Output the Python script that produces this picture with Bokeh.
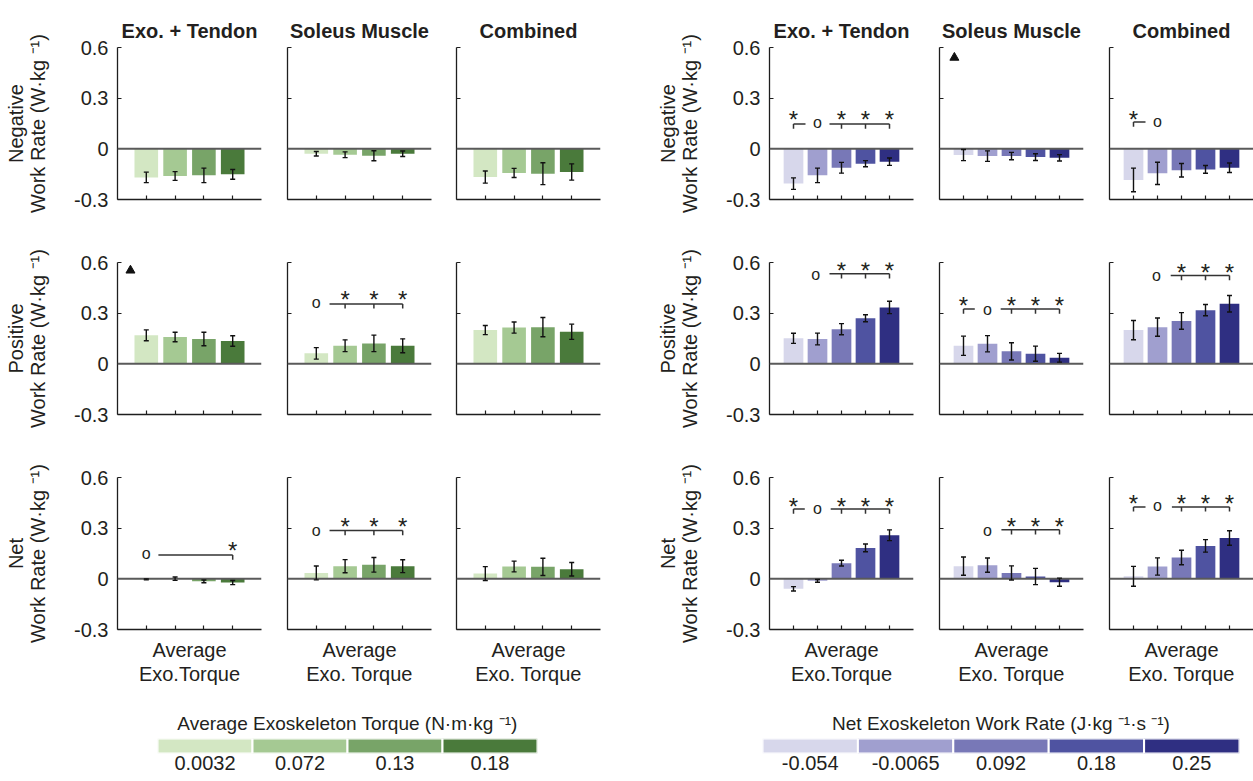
from bokeh.plotting import figure
from bokeh.layouts import column, row
from bokeh.models import ColumnDataSource, Whisker, TeeHead, Span, FixedTicker, Range1d
from bokeh.embed import file_html
from bokeh.resources import INLINE
from bokeh.core.properties import value

FONT = "Liberation Sans"
TXT = "#231f20"
AX = "#1e1e1e"

# ---------------- categories / labels ----------------
torque_levels = ["0.0032", "0.072", "0.13", "0.18"]
work_levels = ["-0.054", "-0.0065", "0.092", "0.18", "0.25"]
torque_colors = ["#d3e7c3", "#a5c993", "#78a468", "#4a7a3b"]
work_colors = ["#d7d7eb", "#a09fcf", "#7878b7", "#4f53a1", "#2f2f82"]
column_titles = ["Exo. + Tendon", "Soleus Muscle", "Combined"]
row_names = ["Negative", "Positive", "Net"]
y_unit_label = "Work Rate (W·kg ⁻¹)"
x_labels = ["Average\nExo.Torque", "Average\nExo. Torque", "Average\nExo. Torque"]
y_ticks = [-0.3, 0, 0.3, 0.6]
y_tick_labels = ["-0.3", "0", "0.3", "0.6"]
torque_legend_title = "Average Exoskeleton Torque (N·m·kg ⁻¹)"
work_legend_title = "Net Exoskeleton Work Rate (J·kg ⁻¹·s ⁻¹)"

# ---------------- values (mean, sd) : torque group ----------------
torque_neg_exo = [-0.169, -0.161, -0.157, -0.151]
torque_neg_exo_sd = [0.031, 0.026, 0.043, 0.029]
torque_neg_sol = [-0.029, -0.035, -0.041, -0.029]
torque_neg_sol_sd = [0.013, 0.017, 0.030, 0.016]
torque_neg_comb = [-0.167, -0.143, -0.147, -0.137]
torque_neg_comb_sd = [0.036, 0.027, 0.065, 0.048]

torque_pos_exo = [0.169, 0.159, 0.147, 0.135]
torque_pos_exo_sd = [0.032, 0.028, 0.040, 0.031]
torque_pos_sol = [0.062, 0.107, 0.121, 0.107]
torque_pos_sol_sd = [0.034, 0.035, 0.049, 0.041]
torque_pos_comb = [0.200, 0.215, 0.217, 0.190]
torque_pos_comb_sd = [0.027, 0.033, 0.057, 0.045]

torque_net_exo = [-0.003, 0.001, -0.015, -0.022]
torque_net_exo_sd = [0.003, 0.010, 0.008, 0.012]
torque_net_sol = [0.035, 0.075, 0.083, 0.075]
torque_net_sol_sd = [0.041, 0.039, 0.043, 0.038]
torque_net_comb = [0.031, 0.073, 0.071, 0.057]
torque_net_comb_sd = [0.041, 0.032, 0.051, 0.040]

# ---------------- values (mean, sd) : work group ----------------
work_neg_exo = [-0.206, -0.157, -0.112, -0.088, -0.076]
work_neg_exo_sd = [0.034, 0.043, 0.032, 0.018, 0.022]
work_neg_sol = [-0.037, -0.043, -0.043, -0.049, -0.053]
work_neg_sol_sd = [0.033, 0.031, 0.022, 0.020, 0.019]
work_neg_comb = [-0.184, -0.145, -0.127, -0.122, -0.112]
work_neg_comb_sd = [0.070, 0.066, 0.040, 0.023, 0.028]

work_pos_exo = [0.151, 0.147, 0.205, 0.270, 0.334]
work_pos_exo_sd = [0.030, 0.035, 0.033, 0.021, 0.037]
work_pos_sol = [0.107, 0.119, 0.074, 0.060, 0.036]
work_pos_sol_sd = [0.057, 0.048, 0.051, 0.045, 0.026]
work_pos_comb = [0.200, 0.217, 0.254, 0.318, 0.356]
work_pos_comb_sd = [0.057, 0.054, 0.049, 0.033, 0.049]

work_net_exo = [-0.059, -0.012, 0.093, 0.183, 0.258]
work_net_exo_sd = [0.013, 0.008, 0.017, 0.023, 0.032]
work_net_sol = [0.075, 0.081, 0.035, 0.014, -0.020]
work_net_sol_sd = [0.054, 0.042, 0.042, 0.048, 0.024]
work_net_comb = [0.015, 0.073, 0.126, 0.195, 0.242]
work_net_comb_sd = [0.059, 0.051, 0.043, 0.037, 0.043]

# ---------------- significance marks ----------------
torque_pos_exo_marks = dict(tri=[(0.45, 0.553)])
torque_pos_sol_marks = dict(o=[(1, 0.353)], star=[(2, 0.41), (3, 0.41), (4, 0.41)],
                            line=[(1.46, 4, 0.355)], tick=[(2, 0.355), (3, 0.355), (4, 0.355)])
torque_net_exo_marks = dict(o=[(1, 0.141)], star=[(4, 0.2)], line=[(1.42, 4, 0.141)], tick=[(4, 0.141)])
torque_net_sol_marks = dict(o=[(1, 0.28)], star=[(2, 0.34), (3, 0.34), (4, 0.34)],
                            line=[(1.46, 4, 0.286)], tick=[(2, 0.286), (3, 0.286), (4, 0.286)])

work_neg_exo_marks = dict(star=[(1, 0.206), (3, 0.206), (4, 0.206), (5, 0.206)], o=[(2, 0.147)],
                          line=[(1, 1.5, 0.147), (2.5, 5, 0.147)],
                          tick=[(1, 0.147), (3, 0.147), (4, 0.147), (5, 0.147)])
work_neg_sol_marks = dict(tri=[(0.62, 0.54)])
work_neg_comb_marks = dict(star=[(1, 0.206)], o=[(2, 0.155)], line=[(1, 1.5, 0.159)], tick=[(1, 0.159)])
work_pos_exo_marks = dict(o=[(1.92, 0.523)], star=[(3, 0.583), (4, 0.583), (5, 0.583)],
                          line=[(2.5, 5, 0.533)], tick=[(3, 0.533), (4, 0.533), (5, 0.533)])
work_pos_sol_marks = dict(star=[(1, 0.374), (3, 0.374), (4, 0.374), (5, 0.374)], o=[(2, 0.314)],
                          line=[(1, 1.47, 0.324), (2.55, 5, 0.324)],
                          tick=[(1, 0.324), (3, 0.324), (4, 0.324), (5, 0.324)])
work_pos_comb_marks = dict(o=[(1.96, 0.517)], star=[(3, 0.573), (4, 0.573), (5, 0.573)],
                           line=[(2.55, 5, 0.523)], tick=[(3, 0.523), (4, 0.523), (5, 0.523)])
work_net_exo_marks = dict(star=[(1, 0.459), (3, 0.459), (4, 0.459), (5, 0.459)], o=[(2, 0.406)],
                          line=[(1, 1.47, 0.413), (2.55, 5, 0.413)],
                          tick=[(1, 0.413), (3, 0.413), (4, 0.413), (5, 0.413)])
work_net_sol_marks = dict(o=[(2, 0.281)], star=[(3, 0.34), (4, 0.34), (5, 0.34)],
                          line=[(2.58, 5, 0.291)], tick=[(3, 0.291), (4, 0.291), (5, 0.291)])
work_net_comb_marks = dict(star=[(1, 0.478), (3, 0.478), (4, 0.478), (5, 0.478)], o=[(2, 0.425)],
                           line=[(1, 1.5, 0.426), (2.6, 5, 0.426)],
                           tick=[(1, 0.426), (3, 0.426), (4, 0.426), (5, 0.426)])

# ---------------- layout constants (pixels) ----------------
FRAME_W = 144
FRAME_H = 152
COL_BORDERS = [(117, 12), (14, 12), (13, 52), (117, 13), (13, 13), (13, 0)]
ROW_BORDERS = [(47, 20), (43, 20), (43, 71)]
STAR_DY = -0.030
O_DY = 0.008
TICK_LEN = 0.028


def style_axis(ax, labelled_ticks, tick_values):
    """Axis line plus inward ticks; unlabelled axes carry their ticks as minor ticks."""
    ax.axis_line_color = AX
    ax.axis_line_width = 1.3
    if labelled_ticks:
        ax.ticker = FixedTicker(ticks=tick_values, minor_ticks=[])
    else:
        ax.ticker = FixedTicker(ticks=[], minor_ticks=tick_values)
    for pre in ("major", "minor"):
        setattr(ax, f"{pre}_tick_line_color", AX)
        setattr(ax, f"{pre}_tick_line_width", 1.2)
        setattr(ax, f"{pre}_tick_in", 4)
        setattr(ax, f"{pre}_tick_out", 0)


def panel(vals, errs, colors, marks, col, rown, title=None, ylabel=None, xlabel=None):
    n = len(vals)
    bl, br = COL_BORDERS[col]
    bt, bb = ROW_BORDERS[rown]
    p = figure(width=bl + FRAME_W + br, height=bt + FRAME_H + bb,
               x_range=Range1d(0, n + 1), y_range=Range1d(-0.3, 0.6),
               output_backend="svg", toolbar_location=None, title=title,
               min_border_left=bl, min_border_right=br, min_border_top=bt, min_border_bottom=bb)
    p.outline_line_color = None
    p.grid.visible = False
    if title:
        p.title.align = "center"
        p.title.text_font = FONT
        p.title.text_font_size = "20px"
        p.title.text_font_style = "bold"
        p.title.text_color = TXT
        p.title.standoff = 11

    xs = list(range(1, n + 1))
    src = ColumnDataSource(dict(x=xs, top=vals, color=colors,
                                lower=[v - e for v, e in zip(vals, errs)],
                                upper=[v + e for v, e in zip(vals, errs)]))
    p.vbar(x="x", top="top", bottom=0, width=0.82, fill_color="color", line_color=None, source=src)
    p.add_layout(Span(location=0, dimension="width", line_color="#5a5a5a", line_width=2))
    w = Whisker(base="x", lower="lower", upper="upper", source=src, line_color="#111111", line_width=1.4,
                upper_head=TeeHead(size=5, line_color="#111111", line_width=1.4),
                lower_head=TeeHead(size=5, line_color="#111111", line_width=1.4))
    w.level = "overlay"
    p.add_layout(w)

    if marks:
        if "line" in marks:
            p.segment(x0=[m[0] for m in marks["line"]], x1=[m[1] for m in marks["line"]],
                      y0=[m[2] for m in marks["line"]], y1=[m[2] for m in marks["line"]],
                      line_color="#333333", line_width=1.5)
        if "tick" in marks:
            p.segment(x0=[m[0] for m in marks["tick"]], x1=[m[0] for m in marks["tick"]],
                      y0=[m[1] for m in marks["tick"]], y1=[m[1] - TICK_LEN for m in marks["tick"]],
                      line_color="#333333", line_width=1.5)
        if "star" in marks:
            p.text(x=[m[0] for m in marks["star"]], y=[m[1] + STAR_DY for m in marks["star"]],
                   text=["*"] * len(marks["star"]), text_font=value(FONT), text_font_size="24px",
                   text_align="center", text_baseline="middle", text_color=TXT)
        if "o" in marks:
            p.text(x=[m[0] for m in marks["o"]], y=[m[1] + O_DY for m in marks["o"]],
                   text=["o"] * len(marks["o"]), text_font=value(FONT), text_font_size="16px",
                   text_align="center", text_baseline="middle", text_color=TXT)
        if "tri" in marks:
            p.scatter(x=[m[0] for m in marks["tri"]], y=[m[1] for m in marks["tri"]],
                      marker="triangle", size=9, fill_color="#111111", line_color="#111111")

    style_axis(p.xaxis[0], False, xs)
    style_axis(p.yaxis[0], bool(ylabel), y_ticks)
    if ylabel:
        p.yaxis.major_label_overrides = dict(zip(y_ticks, y_tick_labels))
        p.yaxis.major_label_text_font = FONT
        p.yaxis.major_label_text_font_size = "20px"
        p.yaxis.major_label_text_color = TXT
        p.yaxis.major_label_standoff = 9
        p.yaxis.axis_label = ylabel
        p.yaxis.axis_label_text_font = FONT
        p.yaxis.axis_label_text_font_size = "20px"
        p.yaxis.axis_label_text_font_style = "normal"
        p.yaxis.axis_label_text_color = TXT
        p.yaxis.axis_label_text_line_height = 1.0
        p.yaxis.axis_label_standoff = 22
    if xlabel:
        p.xaxis.axis_label = xlabel
        p.xaxis.axis_label_text_font = FONT
        p.xaxis.axis_label_text_font_size = "20px"
        p.xaxis.axis_label_text_font_style = "normal"
        p.xaxis.axis_label_text_color = TXT
        p.xaxis.axis_label_text_line_height = 1.1
        p.xaxis.axis_label_standoff = 9
    return p


torque_rows = [
    [(torque_neg_exo, torque_neg_exo_sd, None), (torque_neg_sol, torque_neg_sol_sd, None),
     (torque_neg_comb, torque_neg_comb_sd, None)],
    [(torque_pos_exo, torque_pos_exo_sd, torque_pos_exo_marks), (torque_pos_sol, torque_pos_sol_sd, torque_pos_sol_marks),
     (torque_pos_comb, torque_pos_comb_sd, None)],
    [(torque_net_exo, torque_net_exo_sd, torque_net_exo_marks), (torque_net_sol, torque_net_sol_sd, torque_net_sol_marks),
     (torque_net_comb, torque_net_comb_sd, None)],
]
work_rows = [
    [(work_neg_exo, work_neg_exo_sd, work_neg_exo_marks), (work_neg_sol, work_neg_sol_sd, work_neg_sol_marks),
     (work_neg_comb, work_neg_comb_sd, work_neg_comb_marks)],
    [(work_pos_exo, work_pos_exo_sd, work_pos_exo_marks), (work_pos_sol, work_pos_sol_sd, work_pos_sol_marks),
     (work_pos_comb, work_pos_comb_sd, work_pos_comb_marks)],
    [(work_net_exo, work_net_exo_sd, work_net_exo_marks), (work_net_sol, work_net_sol_sd, work_net_sol_marks),
     (work_net_comb, work_net_comb_sd, work_net_comb_marks)],
]

rows = []
for r in range(3):
    figs = []
    for g, (group, colors) in enumerate([(torque_rows, torque_colors), (work_rows, work_colors)]):
        for c in range(3):
            vals, errs, marks = group[r][c]
            figs.append(panel(vals, errs, colors, marks, g * 3 + c, r,
                              title=column_titles[c] if r == 0 else None,
                              ylabel=f"{row_names[r]}\n{y_unit_label}" if c == 0 else None,
                              xlabel=x_labels[c] if r == 2 else None))
    rows.append(row(*figs, spacing=0))


def legend(levels, colors, title, bl, fw, br):
    n = len(levels)
    p = figure(width=bl + fw + br, height=81, x_range=Range1d(0, n), y_range=Range1d(0, 1),
               output_backend="svg", toolbar_location=None, title=title,
               min_border_left=bl, min_border_right=br, min_border_top=38, min_border_bottom=28)
    p.outline_line_color = None
    p.grid.visible = False
    p.yaxis.visible = False
    p.quad(left=list(range(n)), right=[i + 1 for i in range(n)], bottom=0, top=1,
           fill_color=colors, line_color="white", line_width=2)
    p.title.align = "center"
    p.title.text_font = FONT
    p.title.text_font_size = "19px"
    p.title.text_font_style = "normal"
    p.title.text_color = TXT
    p.title.standoff = 9
    ax = p.xaxis[0]
    ax.ticker = FixedTicker(ticks=[i + 0.5 for i in range(n)], minor_ticks=[])
    ax.major_label_overrides = {i + 0.5: lab for i, lab in enumerate(levels)}
    ax.axis_line_color = None
    ax.major_tick_line_color = None
    ax.minor_tick_line_color = None
    ax.major_tick_in = 0
    ax.major_tick_out = 0
    ax.major_label_standoff = 2
    ax.major_label_text_font = FONT
    ax.major_label_text_font_size = "20px"
    ax.major_label_text_color = TXT
    return p


leg_row = row(legend(torque_levels, torque_colors, torque_legend_title, 157, 380, 113),
              legend(work_levels, work_colors, work_legend_title, 112, 477, 14), spacing=0)

layout = column(*rows, leg_row, spacing=0)
open("out.html", "w").write(file_html(layout, INLINE))
